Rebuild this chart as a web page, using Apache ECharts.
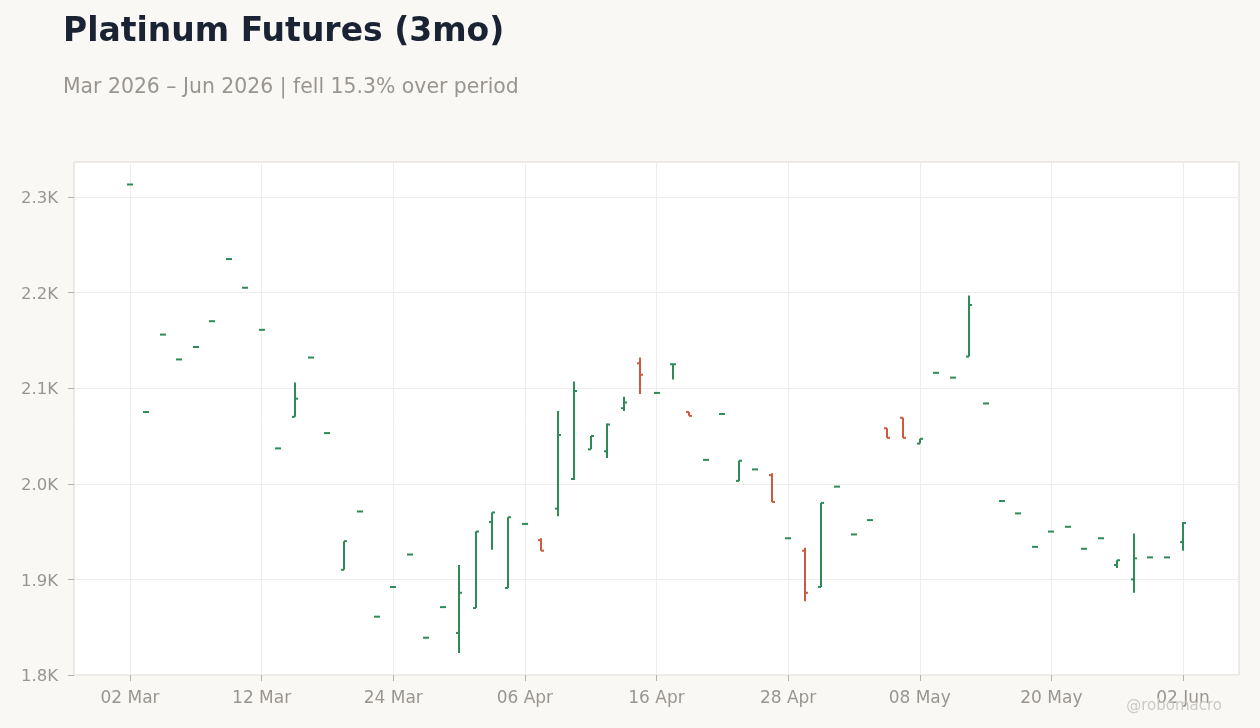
<!DOCTYPE html>
<html>
<head>
<meta charset="utf-8">
<script src="https://cdn.jsdelivr.net/npm/echarts@6/dist/echarts.min.js"></script>
<style>
  html, body { margin: 0; padding: 0; background: #f9f8f5; }
  #chart { width: 1260px; height: 728px; }
</style>
</head>
<body>
<div id="chart"></div>
<script>
const dates = [
  '02 Mar','03 Mar','04 Mar','05 Mar','06 Mar','09 Mar','10 Mar','11 Mar','12 Mar','13 Mar',
  '16 Mar','17 Mar','18 Mar','19 Mar','20 Mar','23 Mar','24 Mar','25 Mar','26 Mar','27 Mar',
  '30 Mar','31 Mar','01 Apr','02 Apr','06 Apr','07 Apr','08 Apr','09 Apr','10 Apr','13 Apr',
  '14 Apr','15 Apr','16 Apr','17 Apr','20 Apr','21 Apr','22 Apr','23 Apr','24 Apr','27 Apr',
  '28 Apr','29 Apr','30 Apr','01 May','04 May','05 May','06 May','07 May','08 May','11 May',
  '12 May','13 May','14 May','15 May','18 May','19 May','20 May','21 May','22 May','26 May',
  '27 May','28 May','29 May','01 Jun','02 Jun'
];
const opens = [
  2313,2075,2156,2130,2143,2170,2235,2205,2161,2037,
  2070,2132,2053,1910,1971,1861,1892,1926,1839,1871,
  1844,1870,1960,1891,1958,1941,1974,2005,2036,2034,
  2079,2126,2095,2125,2075,2025,2073,2003,2015,2009,
  1943,1930,1892,1997,1947,1962,2058,2069,2042,2116,
  2111,2133,2084,1982,1969,1934,1950,1955,1932,1943,
  1915,1900,1923,1923,1939
];
const highs = [
  2313,2075,2156,2130,2143,2170,2235,2205,2161,2037,
  2106,2132,2053,1940,1971,1861,1892,1926,1839,1871,
  1915,1950,1970,1965,1958,1943,2076,2107,2050,2063,
  2091,2132,2095,2125,2075,2025,2073,2024,2015,2011,
  1943,1933,1980,1997,1947,1962,2058,2069,2047,2116,
  2111,2197,2084,1982,1969,1934,1950,1955,1932,1943,
  1920,1948,1923,1923,1960
];
const lows = [
  2313,2075,2156,2130,2143,2170,2235,2205,2161,2037,
  2070,2132,2053,1910,1971,1861,1892,1926,1839,1871,
  1823,1870,1931,1891,1958,1930,1966,2004,2036,2027,
  2076,2094,2095,2109,2071,2025,2073,2003,2015,1981,
  1943,1877,1892,1997,1947,1962,2048,2048,2042,2116,
  2111,2133,2084,1982,1969,1934,1950,1955,1932,1943,
  1912,1886,1923,1923,1930
];
const closes = [
  2313,2075,2156,2130,2143,2170,2235,2205,2161,2037,
  2089,2132,2053,1940,1971,1861,1892,1926,1839,1871,
  1886,1950,1970,1965,1958,1930,2051,2097,2050,2062,
  2085,2114,2095,2125,2071,2025,2073,2024,2015,1981,
  1943,1886,1980,1997,1947,1962,2048,2048,2047,2116,
  2111,2187,2084,1982,1969,1934,1950,1955,1932,1943,
  1920,1922,1923,1923,1959
];
const yTicks = [1800, 1900, 2000, 2100, 2200, 2300];

const UP = '#2e8b57';
const DOWN = '#cc5a3c';
const GRID_LINE = '#efedea';
const AXIS_TEXT = '#9a958f';
const FONT = 'DejaVu Sans';

const ohlc = dates.map((d, i) => [i, opens[i], highs[i], lows[i], closes[i]]);

const chart = echarts.init(document.getElementById('chart'), null, { renderer: 'canvas' });

const Y_MIN = 1800, Y_MAX = 2336.5;

chart.setOption({
  backgroundColor: '#f9f8f5',
  animation: false,
  textStyle: { fontFamily: FONT },
  graphic: [
    { type: 'text', left: 63, top: 16, style: { text: 'Platinum Futures (3mo)', font: 'bold 33px "DejaVu Sans"', fill: '#1a2333' } },
    { type: 'text', left: 63, top: 78, style: { text: 'Mar 2026 \u2013 Jun 2026 | fell 15.3% over period', font: '20.4px "DejaVu Sans"', fill: '#9a958f' } },
    { type: 'text', right: 38, top: 699, style: { text: '@robomacro', font: '15px "DejaVu Sans"', fill: '#cdc9c4' }, z: 100 }
  ],
  grid: [
    { left: 74, right: 21, top: 162, bottom: 53, show: true, backgroundColor: '#ffffff', borderColor: '#ddd8d0', borderWidth: 1 },
    { left: 130, right: 77, top: 162, bottom: 53, show: false }
  ],
  xAxis: [
    { gridIndex: 0, type: 'value', min: 0, max: 1, show: false },
    {
      gridIndex: 1, type: 'category', data: dates, boundaryGap: false,
      axisLine: { show: false },
      axisTick: { show: true, interval: 7, length: 6, lineStyle: { color: '#b5b0aa' } },
      axisLabel: { interval: 7, color: AXIS_TEXT, fontSize: 17, fontFamily: FONT, margin: 15 },
      splitLine: { show: true, interval: 7, lineStyle: { color: GRID_LINE, width: 1 } }
    }
  ],
  yAxis: [
    {
      gridIndex: 0, type: 'value', min: Y_MIN, max: Y_MAX, interval: 100,
      axisLine: { show: false },
      axisTick: { show: true, length: 6, lineStyle: { color: '#b5b0aa' } },
      axisLabel: {
        color: AXIS_TEXT, fontSize: 16.5, fontFamily: FONT, margin: 16,
        showMaxLabel: false,
        formatter: v => (yTicks.indexOf(v) >= 0 ? '{a|' + (v / 1000).toFixed(1) + 'K}' : ''),
        rich: { a: { color: AXIS_TEXT, fontSize: 16.5, fontFamily: FONT, padding: [4, 0, 0, 0] } }
      },
      splitLine: { show: true, lineStyle: { color: GRID_LINE, width: 1 } }
    },
    { gridIndex: 1, type: 'value', min: Y_MIN, max: Y_MAX, show: false, splitLine: { show: false } }
  ],
  series: [{
    type: 'custom',
    xAxisIndex: 1,
    yAxisIndex: 1,
    data: ohlc,
    encode: { x: 0, y: [1, 2, 3, 4] },
    renderItem: function (params, api) {
      const x = api.value(0);
      const o = api.value(1), h = api.value(2), l = api.value(3), c = api.value(4);
      const pO = api.coord([x, o]);
      const pH = api.coord([x, h]);
      const pL = api.coord([x, l]);
      const pC = api.coord([x, c]);
      const color = c >= o ? UP : DOWN;
      const style = { stroke: color, lineWidth: 2, lineCap: 'butt' };
      const cx = Math.round(pO[0]);
      const children = [
        { type: 'line', shape: { x1: cx - 3, y1: pO[1], x2: cx, y2: pO[1] }, style: style },
        { type: 'line', shape: { x1: cx, y1: pC[1], x2: cx + 3, y2: pC[1] }, style: style }
      ];
      if (Math.abs(pH[1] - pL[1]) > 0.5) {
        children.push({ type: 'line', shape: { x1: cx, y1: pH[1], x2: cx, y2: pL[1] }, style: style });
      }
      return { type: 'group', children: children };
    }
  }]
});
</script>
</body>
</html>
